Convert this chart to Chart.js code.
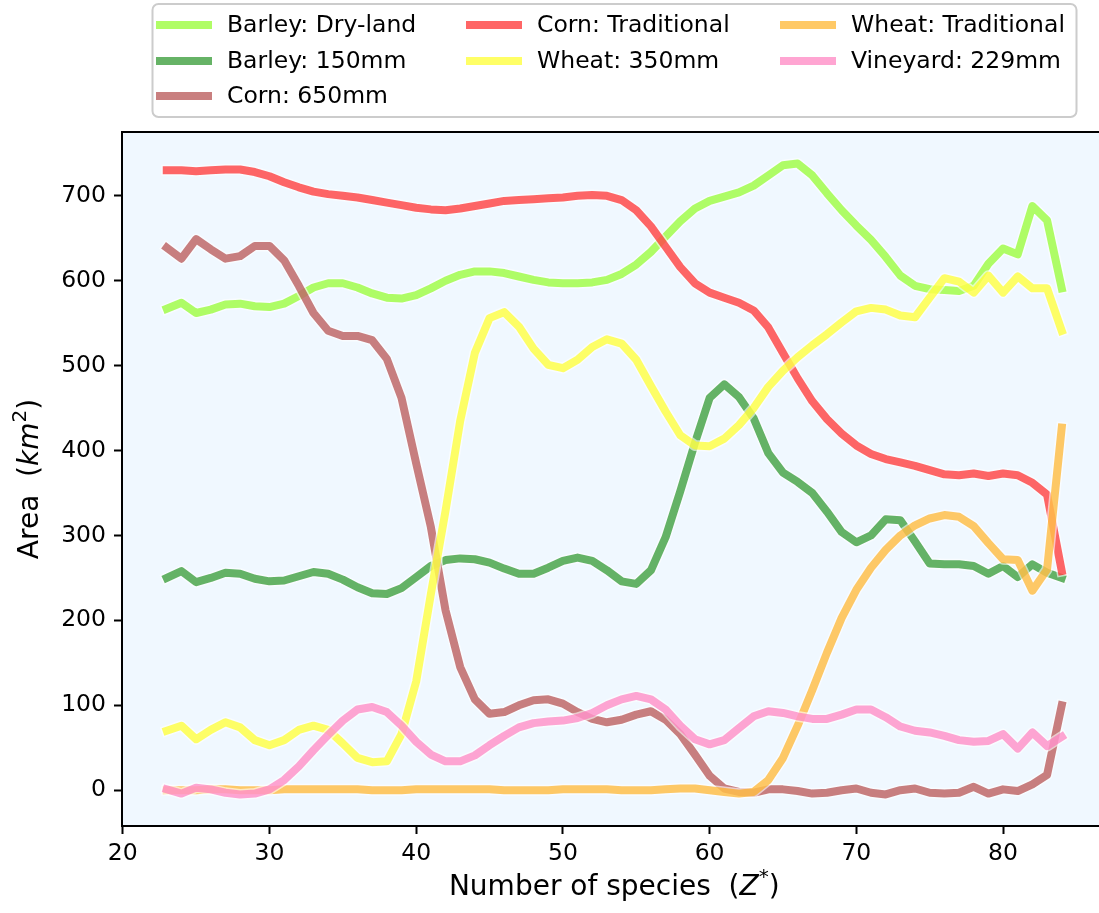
<!DOCTYPE html>
<html>
<head>
<meta charset="utf-8">
<script src="https://cdn.jsdelivr.net/npm/chart.js@4.4.1/dist/chart.umd.min.js"></script>
<style>
  html, body { margin: 0; padding: 0; background: #fff; overflow: hidden; }
  #wrap { width: 1110px; height: 913px; }
</style>
</head>
<body>
<div id="wrap"><canvas id="chart" width="1110" height="913"></canvas></div>
<script>
// number of species (Z*) on the x axis
const speciesCount = [
  23, 24, 25, 26, 27, 28, 29, 30, 31, 32,
  33, 34, 35, 36, 37, 38, 39, 40, 41, 42,
  43, 44, 45, 46, 47, 48, 49, 50, 51, 52,
  53, 54, 55, 56, 57, 58, 59, 60, 61, 62,
  63, 64, 65, 66, 67, 68, 69, 70, 71, 72,
  73, 74, 75, 76, 77, 78, 79, 80, 81, 82,
  83, 84
];

// area in km2 for each crop / irrigation scenario
const barleyDryland = [
  567, 574, 562, 566, 572, 573, 570, 569, 573, 582,
  592, 597, 597, 592, 585, 580, 579, 583, 591, 600,
  607, 611, 611, 609, 605, 601, 598, 597, 597, 598,
  601, 608, 619, 634, 652, 670, 685, 694, 699, 704,
  712, 724, 736, 738, 724, 703, 683, 665, 648, 628,
  606, 594, 590, 589, 588, 594, 620, 638, 631, 688,
  671, 591
];
const barley150 = [
  250, 258, 245, 250, 256, 255, 249, 246, 247, 252,
  257, 255, 248, 239, 232, 231, 238, 251, 264, 271,
  273, 272, 268, 261, 255, 255, 262, 270, 274, 270,
  259, 246, 243, 259, 298, 352, 409, 462, 478, 463,
  438, 397, 374, 363, 350, 328, 304, 292, 300, 319,
  318, 293, 267, 266, 266, 264, 255, 264, 251, 266,
  256, 250
];
const corn650 = [
  639, 626, 649, 637, 626, 629, 641, 641, 624, 594,
  562, 541, 535, 535, 530, 508, 462, 385, 310, 212,
  145, 107, 90, 92, 100, 106, 107, 102, 92, 84,
  80, 83, 89, 93, 83, 66, 42, 17, 2, -2,
  -3, 1, 1, -1, -4, -3, 0, 2, -3, -5,
  0, 2, -3, -4, -3, 4, -4, 1, -1, 7,
  18, 100
];
const cornTraditional = [
  730, 730, 729, 730, 731, 731, 728, 723, 716, 710,
  705, 702, 700, 698, 695, 692, 689, 686, 684, 683,
  685, 688, 691, 694, 695, 696, 697, 698, 700, 701,
  700, 695, 683, 664, 640, 616, 597, 586, 580, 574,
  565, 545, 515, 485, 458, 437, 420, 406, 396, 390,
  386, 382, 377, 372, 371, 373, 370, 373, 371, 362,
  348, 258
];
const wheat350 = [
  70, 76, 60, 71, 80, 74, 59, 53, 59, 71,
  76, 71, 55, 38, 33, 34, 66, 128, 231, 329,
  435, 515, 556, 563, 546, 520, 501, 497, 507, 522,
  531, 526, 507, 476, 446, 418, 406, 405, 414, 430,
  450, 475, 494, 510, 524, 537, 551, 564, 568, 566,
  559, 557, 580, 603, 599, 586, 606, 586, 605, 591,
  591, 541
];
const wheatTraditional = [
  0, 0, 0, 1, 1, 0, 0, 0, 1, 1,
  1, 1, 1, 1, 0, 0, 0, 1, 1, 1,
  1, 1, 1, 0, 0, 0, 0, 1, 1, 1,
  1, 0, 0, 0, 1, 2, 2, 0, -2, -4,
  -2, 12, 38, 76, 118, 162, 203, 236, 262, 283,
  300, 312, 320, 324, 322, 311, 291, 272, 271, 235,
  260, 427
];
const vineyard229 = [
  1, -4, 3, 1, -3, -5, -4, 1, 12, 28,
  47, 65, 82, 95, 98, 92, 76, 57, 42, 34,
  34, 41, 53, 64, 74, 79, 81, 82, 85, 91,
  100, 107, 111, 107, 95, 76, 60, 54, 59, 73,
  87, 93, 91, 87, 84, 84, 89, 95, 95, 86,
  75, 70, 68, 64, 59, 57, 58, 66, 49, 68,
  52, 63
];

const seriesNames = [
  'Barley: Dry-land', 'Barley: 150mm', 'Corn: 650mm', 'Corn: Traditional',
  'Wheat: 350mm', 'Wheat: Traditional', 'Vineyard: 229mm'
];
const seriesValues = [
  barleyDryland, barley150, corn650, cornTraditional,
  wheat350, wheatTraditional, vineyard229
];
const seriesColors = [
  'rgba(124, 252, 0, 0.6)',
  'rgba(0, 128, 0, 0.6)',
  'rgba(165, 42, 42, 0.6)',
  'rgba(255, 0, 0, 0.6)',
  'rgba(255, 255, 0, 0.6)',
  'rgba(255, 165, 0, 0.6)',
  'rgba(255, 105, 180, 0.6)'
];

const FONT = '"DejaVu Sans", "Liberation Sans", sans-serif';
const TICK_SIZE = 23.5;
const LABEL_SIZE = 28;
const LINE_W = 8;

const datasets = seriesNames.map((name, i) => ({
  label: name,
  data: speciesCount.map((x, j) => ({ x: x, y: seriesValues[i][j] })),
  borderColor: seriesColors[i],
  borderWidth: LINE_W,
  borderCapStyle: 'square',
  borderJoinStyle: 'round',
  pointRadius: 0,
  tension: 0,
  fill: false,
  // later series sit on top, like the plotting order
  order: seriesNames.length - i
}));

// light blue axes background plus the top spine
const plotFrame = {
  id: 'plotFrame',
  beforeDraw(chart) {
    const { ctx, chartArea: a } = chart;
    ctx.save();
    ctx.fillStyle = '#f0f8ff';
    ctx.fillRect(a.left, a.top, a.right - a.left, a.bottom - a.top);
    ctx.restore();
  },
  afterDraw(chart) {
    const { ctx, chartArea: a } = chart;
    ctx.save();
    ctx.strokeStyle = '#000';
    ctx.lineWidth = 2;
    ctx.beginPath();
    ctx.moveTo(a.left - 1, a.top);
    ctx.lineTo(a.right + 1, a.top);
    ctx.moveTo(a.right, a.top);
    ctx.lineTo(a.right, a.bottom);
    ctx.stroke();
    ctx.restore();
  }
};

// white halo under each line
const lineHalo = {
  id: 'lineHalo',
  beforeDatasetDraw(chart, args) {
    const pts = args.meta.data;
    if (!pts.length) return;
    const { ctx, chartArea: a } = chart;
    ctx.save();
    ctx.beginPath();
    ctx.rect(a.left, a.top, a.right - a.left, a.bottom - a.top);
    ctx.clip();
    ctx.strokeStyle = 'rgba(255, 255, 255, 0.6)';
    ctx.lineWidth = LINE_W + 3;
    ctx.lineCap = 'square';
    ctx.lineJoin = 'round';
    ctx.beginPath();
    ctx.moveTo(pts[0].x, pts[0].y);
    for (let k = 1; k < pts.length; k++) ctx.lineTo(pts[k].x, pts[k].y);
    ctx.stroke();
    ctx.restore();
  }
};

// draw a row of differently styled text pieces centred on (cx, cy)
function drawRuns(ctx, runs, cx, cy) {
  let total = 0;
  runs.forEach(r => { ctx.font = r.font; r.w = ctx.measureText(r.text).width; total += r.w; });
  let x = cx - total / 2;
  ctx.textBaseline = 'middle';
  ctx.textAlign = 'left';
  runs.forEach(r => {
    ctx.font = r.font;
    ctx.fillText(r.text, x, cy + (r.dy || 0));
    x += r.w;
  });
}

const axisTitles = {
  id: 'axisTitles',
  afterDraw(chart) {
    const { ctx, chartArea: a } = chart;
    const normal = LABEL_SIZE + 'px ' + FONT;
    const italic = 'italic ' + LABEL_SIZE + 'px ' + FONT;
    const small = Math.round(LABEL_SIZE * 0.7) + 'px ' + FONT;
    ctx.save();
    ctx.fillStyle = '#000';
    drawRuns(ctx, [
      { text: 'Number of species  (', font: normal },
      { text: 'Z', font: italic },
      { text: '*', font: small, dy: -10 },
      { text: ')', font: normal }
    ], (a.left + a.right) / 2, 888);

    ctx.translate(31, (a.top + a.bottom) / 2);
    ctx.rotate(-Math.PI / 2);
    drawRuns(ctx, [
      { text: 'Area  (', font: normal },
      { text: 'km', font: italic },
      { text: '2', font: small, dy: -10 },
      { text: ')', font: normal }
    ], 0, 0);
    ctx.restore();
  }
};

// three-column legend above the axes, filled column by column (3, 2, 2)
const legendColumns = [[0, 1, 2], [3, 4], [5, 6]];
const legendBox = {
  id: 'legendBox',
  afterDraw(chart) {
    const ctx = chart.ctx;
    const textX = [227, 537, 851];
    const rowY = [25, 61, 96];
    ctx.save();
    ctx.beginPath();
    ctx.roundRect(152.5, 4, 924, 113, 6);
    ctx.fillStyle = 'rgba(255, 255, 255, 0.8)';
    ctx.fill();
    ctx.strokeStyle = '#cccccc';
    ctx.lineWidth = 2;
    ctx.stroke();
    ctx.font = TICK_SIZE + 'px ' + FONT;
    ctx.textBaseline = 'middle';
    ctx.textAlign = 'left';
    legendColumns.forEach((members, col) => {
      members.forEach((i, row) => {
        const tx = textX[col];
        const ty = rowY[row];
        ctx.strokeStyle = seriesColors[i];
        ctx.lineWidth = LINE_W;
        ctx.lineCap = 'butt';
        ctx.beginPath();
        ctx.moveTo(tx - 71, ty);
        ctx.lineTo(tx - 15, ty);
        ctx.stroke();
        ctx.fillStyle = '#000';
        ctx.fillText(seriesNames[i], tx, ty + 1);
      });
    });
    ctx.restore();
  }
};

const tickGrid = {
  display: true,
  drawOnChartArea: false,
  drawTicks: true,
  tickLength: 8,
  tickWidth: 2,
  tickColor: '#000'
};

new Chart(document.getElementById('chart'), {
  type: 'line',
  data: { datasets: datasets },
  options: {
    responsive: false,
    animation: false,
    devicePixelRatio: 1,
    layout: { padding: { top: 132, right: 3.5, left: 0, bottom: 0 } },
    plugins: {
      legend: { display: false },
      tooltip: { enabled: false }
    },
    scales: {
      x: {
        type: 'linear',
        min: 19.95,
        max: 87.05,
        afterFit: s => { s.height = 87; },
        grid: tickGrid,
        border: { display: true, color: '#000', width: 2 },
        ticks: {
          stepSize: 10,
          includeBounds: false,
          maxRotation: 0,
          padding: 6,
          color: '#000',
          font: { family: FONT, size: TICK_SIZE }
        }
      },
      y: {
        min: -42.15,
        max: 775.15,
        afterFit: s => { s.width = 122; },
        grid: tickGrid,
        border: { display: true, color: '#000', width: 2 },
        ticks: {
          stepSize: 100,
          includeBounds: false,
          padding: 8,
          color: '#000',
          font: { family: FONT, size: TICK_SIZE }
        }
      }
    }
  },
  plugins: [plotFrame, lineHalo, axisTitles, legendBox]
});
</script>
</body>
</html>
